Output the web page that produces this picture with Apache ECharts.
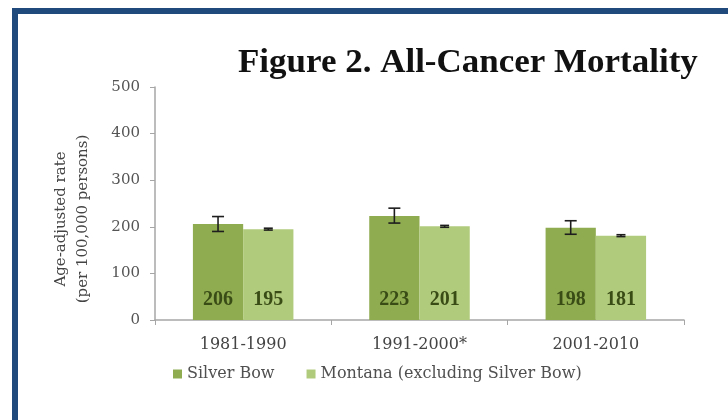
<!DOCTYPE html>
<html>
<head>
<meta charset="utf-8">
<script src="https://cdn.jsdelivr.net/npm/echarts@6/dist/echarts.min.js"></script>
<style>
  html, body { margin: 0; padding: 0; background: #ffffff; }
  #chart { width: 728px; height: 420px; }
</style>
</head>
<body>
<div id="chart"></div>
<script>
// Decades and age-adjusted cancer mortality rates (per 100,000 persons)
const periods = ['1981-1990', '1991-2000*', '2001-2010'];
const silverBow = [206, 223, 198];
const silverBowLow = [190, 208, 184];
const silverBowHigh = [222, 240, 213];
const montana = [195, 201, 181];
const montanaLow = [193, 199, 179];
const montanaHigh = [197, 203, 183];
const yTicks = [0, 100, 200, 300, 400, 500];

const SERIF = '"Liberation Serif", "DejaVu Serif", serif';
const WIDE_SERIF = '"DejaVu Serif", "Liberation Serif", serif';
const DARK = '#8fac50';
const LIGHT = '#b1cb7c';
const LABEL = '#3a4c16';
const CATEGORY_GAP = 0.43;

const chart = echarts.init(document.getElementById('chart'), null, { renderer: 'canvas' });

// Error whiskers: one I-beam per bar, shifted left or right of the category centre
function whisker(side, capHalf) {
  return function (params, api) {
    const idx = api.value(0);
    const centre = api.coord([idx, 0])[0];
    const band = api.size([1, 0])[0];
    const barW = band * (1 - CATEGORY_GAP) / 2;
    const x = centre + side * barW / 2;
    const lo = api.coord([idx, api.value(1)])[1];
    const hi = api.coord([idx, api.value(2)])[1];
    const style = { stroke: '#1e1e1e', lineWidth: 1.6 };
    return {
      type: 'group',
      children: [
        { type: 'line', shape: { x1: x, y1: lo, x2: x, y2: hi }, style },
        { type: 'line', shape: { x1: x - capHalf, y1: lo, x2: x + capHalf, y2: lo }, style },
        { type: 'line', shape: { x1: x - capHalf, y1: hi, x2: x + capHalf, y2: hi }, style }
      ]
    };
  };
}

const barLabel = {
  show: true,
  position: 'insideBottom',
  distance: 10,
  color: LABEL,
  fontFamily: SERIF,
  fontWeight: 'bold',
  fontSize: 20
};

chart.setOption({
  animation: false,
  backgroundColor: '#ffffff',
  graphic: [
    {
      type: 'rect',
      shape: { x: 15, y: 11, width: 720, height: 420 },
      style: { fill: 'none', stroke: '#1f4a7b', lineWidth: 6 },
      silent: true
    },
    {
      type: 'text',
      x: 238,
      y: 80,
      scaleX: 1.06,
      style: {
        text: 'Figure 2. All-Cancer Mortality',
        fontFamily: SERIF,
        fontWeight: 'bold',
        fontSize: 33,
        fill: '#111111',
        align: 'left',
        verticalAlign: 'bottom'
      }
    },
    {
      type: 'text',
      x: 72,
      y: 219,
      rotation: Math.PI / 2,
      style: {
        text: 'Age-adjusted rate\n(per 100,000 persons)',
        fontFamily: WIDE_SERIF,
        fontSize: 15,
        lineHeight: 22,
        fill: '#444444',
        align: 'center',
        verticalAlign: 'middle'
      }
    }
  ],
  legend: {
    left: 168,
    top: 361,
    itemWidth: 9,
    itemHeight: 9,
    itemGap: 32,
    icon: 'rect',
    textStyle: { fontFamily: WIDE_SERIF, fontSize: 16, color: '#505050' },
    data: ['Silver Bow', 'Montana (excluding Silver Bow)']
  },
  grid: { left: 155, right: 44, top: 87, bottom: 100 },
  xAxis: {
    type: 'category',
    data: periods,
    axisLine: { lineStyle: { color: '#a6a6a6', width: 1.5 } },
    axisTick: { show: true, alignWithLabel: false, length: 5, lineStyle: { color: '#a6a6a6' } },
    axisLabel: { margin: 17, fontFamily: WIDE_SERIF, fontSize: 16, color: '#444444' }
  },
  yAxis: {
    type: 'value',
    min: yTicks[0],
    max: yTicks[yTicks.length - 1],
    interval: yTicks[1] - yTicks[0],
    axisLine: { show: true, lineStyle: { color: '#a6a6a6', width: 1.5 } },
    axisTick: { show: true, length: 5, lineStyle: { color: '#a6a6a6' } },
    splitLine: { show: false },
    axisLabel: { margin: 15, fontFamily: WIDE_SERIF, fontSize: 15, color: '#555555' }
  },
  series: [
    {
      name: 'Silver Bow',
      type: 'bar',
      data: silverBow,
      barGap: '0%',
      barCategoryGap: (CATEGORY_GAP * 100) + '%',
      itemStyle: { color: DARK },
      label: barLabel
    },
    {
      name: 'Montana (excluding Silver Bow)',
      type: 'bar',
      data: montana,
      itemStyle: { color: LIGHT },
      label: barLabel
    },
    {
      type: 'custom',
      renderItem: whisker(-1, 6),
      data: periods.map((p, i) => [i, silverBowLow[i], silverBowHigh[i]]),
      encode: { x: 0, y: [1, 2] },
      z: 5
    },
    {
      type: 'custom',
      renderItem: whisker(1, 4.5),
      data: periods.map((p, i) => [i, montanaLow[i], montanaHigh[i]]),
      encode: { x: 0, y: [1, 2] },
      z: 5
    }
  ]
});
</script>
</body>
</html>
